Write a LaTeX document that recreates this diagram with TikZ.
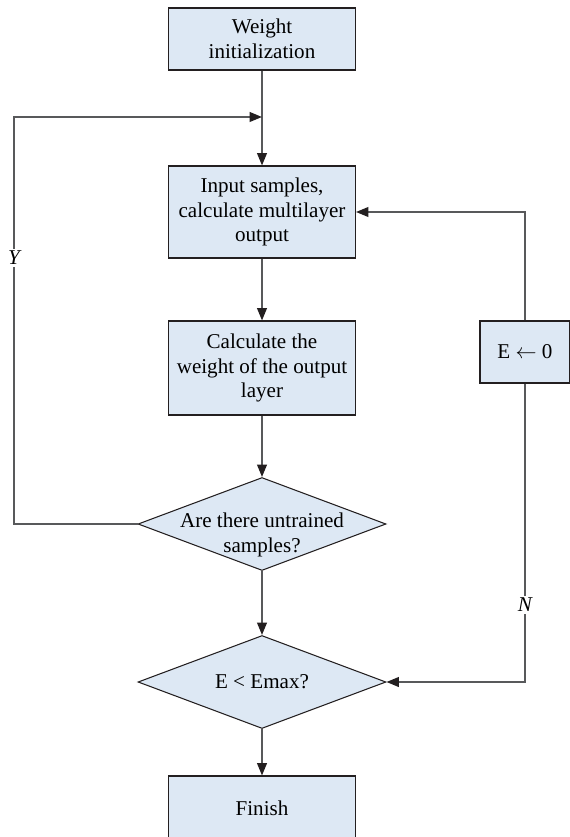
\documentclass[tikz,border=0pt]{standalone}
\usepackage{fontspec}
\setmainfont{Liberation Serif}
\usetikzlibrary{arrows.meta,shapes.geometric}
\definecolor{boxfill}{RGB}{221,232,244}
\definecolor{boxline}{RGB}{35,31,32}
\definecolor{flowline}{RGB}{88,89,91}
\tikzset{
stepbox/.style={draw=boxline,fill=boxfill,line width=0.6pt,minimum width=3.74cm,align=center,inner sep=2pt,font=\fontsize{12}{14}\selectfont},
decision/.style={diamond,draw=boxline,fill=boxfill,line width=0.6pt,minimum width=4.96cm,minimum height=1.86cm,inner sep=0pt},
decisiontext/.style={align=center,font=\fontsize{12}{14}\selectfont},
flow/.style={draw=flowline,line width=1pt,-{Triangle[length=7pt,width=5.5pt,color=boxline]}},
branch/.style={fill=white,inner sep=1pt,font=\fontsize{12}{14}\selectfont\itshape}
}

\begin{document}
\begin{tikzpicture}[x=0.02cm,y=-0.02cm]
\useasboundingbox (0,0) rectangle (570,837);
\node[stepbox,minimum height=1.24cm] (init) at (262,39) {Weight\\initialization};
\node[stepbox,minimum height=1.84cm] (input) at (262,212) {Input samples,\\calculate multilayer\\output};
\node[stepbox,minimum height=1.88cm] (weight) at (262,368) {Calculate the\\weight of the output\\layer};
\node[decision] (untrained) at (262,524) {};
\node[decisiontext] (untrainedtext) at (262,535) {Are there untrained\\samples?};
\node[decision] (emax) at (262,682) {};
\node[decisiontext] (emaxtext) at (262,682) {E < Emax?};
\node[stepbox,minimum height=1.28cm] (finish) at (262,808) {Finish};
\node[stepbox,minimum width=1.8cm,minimum height=1.24cm] (reset) at (525,352) {E $\leftarrow$ 0};
\coordinate (ytop) at (14,117);
\coordinate (ymerge) at (262,117);
\coordinate (ncorner) at (525,682);
\path[flow]
(init) edge (input)
(input) edge (weight)
(weight) edge (untrained)
(untrained) edge (emax)
(emax) edge (finish);
% loop back for the next sample
\draw[flow] (untrained.west) -| (ytop) -- (ymerge);
\node[branch] (ylabel) at (14,258) {Y};
% error too large: reset and start over
\draw[flow] (reset.south) -- (ncorner) -- (emax.east);
\draw[flow] (reset.north) |- (input.east);
\node[branch] (nlabel) at (525,605) {N};
\end{tikzpicture}
\end{document}
